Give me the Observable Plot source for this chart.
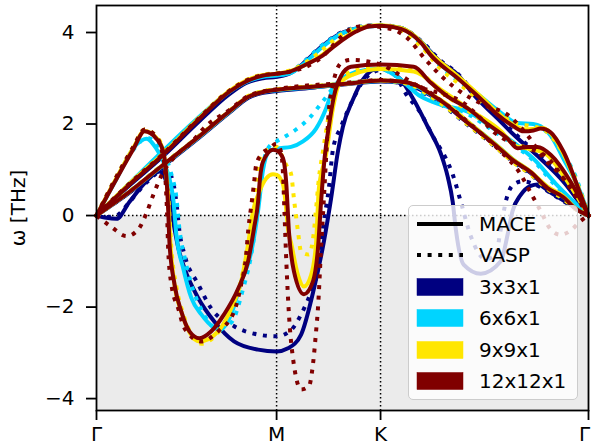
<!DOCTYPE html>
<html><head><meta charset="utf-8">
<script src="https://cdn.jsdelivr.net/npm/d3@7"></script>
<script src="https://cdn.jsdelivr.net/npm/@observablehq/plot@0.6"></script>
<style>
body{margin:0;background:#fff;font-family:"DejaVu Sans",sans-serif;}
#wrap{position:relative;width:592px;height:446px;overflow:hidden;}
#legend{position:absolute;left:408px;top:205px;width:170px;height:195px;box-sizing:border-box;background:rgba(255,255,255,0.8);border:1.5px solid #cccccc;border-radius:5px;}
#legend .row{position:absolute;left:0;height:30px;width:100%;}
#legend .lab{position:absolute;left:70px;top:0;line-height:30px;font-size:20px;color:#000;}
#legend svg{position:absolute;left:7px;top:0;}
</style></head><body><div id="wrap"></div><script>
// path positions (Γ-M-K-Γ, hexagonal BZ)
const tickPos = [0, 0.5774, 0.9107, 1.5774];
const tickLab = ["Γ", "M", "K", "Γ"];
const yTicks = [-4, -2, 0, 2, 4];
const yDomain = [-4.26, 4.59];
const sizes = ["3x3x1", "6x6x1", "9x9x1", "12x12x1"];
const colors = ["#000080", "#00d4ff", "#ffe600", "#800000"];
const methods = ["MACE", "VASP"];

// ---- 3x3x1 ----
const m3A = [[0,0],[0.106,0.66],[0.214,1.3],[0.32,2.0],[0.425,2.65],[0.48,2.9],[0.534,3.0],[0.5774,3.03],[0.624,3.12],[0.672,3.38],[0.72,3.68],[0.784,3.98],[0.841,4.1],[0.9107,4.15],[0.976,4.1],[1.04,3.8],[1.104,3.35],[1.158,3.08],[1.209,2.64],[1.286,2.12],[1.337,1.77],[1.424,1.24],[1.497,0.74],[1.5774,0]];
const m3B = [[0,0],[0.106,0.5],[0.214,1.08],[0.32,1.65],[0.425,2.24],[0.489,2.58],[0.534,2.68],[0.5774,2.72],[0.7,2.8],[0.8,2.87],[0.9107,2.93],[0.976,2.9],[1.024,2.8],[1.072,2.62],[1.126,2.38],[1.177,2.1],[1.232,1.8],[1.286,1.5],[1.337,1.2],[1.392,0.93],[1.446,0.6],[1.497,0.38],[1.536,0.15],[1.5774,0]];
const m3H = [[0,0],[0.032,-0.05],[0.064,-0.07],[0.106,0.3],[0.16,0.75],[0.202,0.96],[0.218,0.85],[0.234,0.37],[0.246,-0.13],[0.262,-0.7],[0.282,-1.15],[0.326,-1.8],[0.377,-2.31],[0.441,-2.75],[0.518,-2.93],[0.5774,-2.97],[0.614,-2.9],[0.656,-2.6],[0.697,-1.6],[0.729,-0.57],[0.752,0.37],[0.774,1.4],[0.79,1.94],[0.822,2.53],[0.854,2.97],[0.889,3.19],[0.9107,3.21],[0.944,3.15],[0.976,2.97],[1.017,2.53],[1.062,1.94],[1.104,1.35],[1.126,0.85],[1.142,0.3],[1.152,-0.3],[1.177,-1.07],[1.232,-1.27],[1.296,-1.0],[1.318,-0.42],[1.334,0.1],[1.36,0.45],[1.392,0.65],[1.414,0.68],[1.456,0.5],[1.504,0.3],[1.5774,0]];
const v3A = [[0,0],[0.106,0.67],[0.214,1.32],[0.32,2.02],[0.425,2.67],[0.48,2.92],[0.534,3.02],[0.5774,3.05],[0.624,3.14],[0.672,3.4],[0.72,3.7],[0.784,4.0],[0.841,4.12],[0.9107,4.16],[0.976,4.1],[1.04,3.82],[1.104,3.38],[1.158,3.1],[1.209,2.7],[1.286,2.18],[1.337,1.82],[1.424,1.28],[1.497,0.76],[1.5774,0]];
const v3B = [[0,0],[0.106,0.51],[0.214,1.1],[0.32,1.67],[0.425,2.26],[0.489,2.6],[0.534,2.7],[0.5774,2.74],[0.7,2.82],[0.8,2.88],[0.9107,2.94],[0.976,2.9],[1.024,2.78],[1.072,2.58],[1.126,2.33],[1.177,2.05],[1.232,1.76],[1.286,1.46],[1.337,1.17],[1.392,0.9],[1.446,0.58],[1.497,0.36],[1.536,0.14],[1.5774,0]];
const v3H = [[0,0],[0.032,-0.03],[0.064,0.0],[0.106,0.3],[0.16,0.72],[0.218,1.0],[0.24,0.85],[0.256,0.3],[0.266,-0.35],[0.282,-0.85],[0.326,-1.5],[0.368,-2.03],[0.441,-2.42],[0.518,-2.6],[0.5774,-2.64],[0.624,-2.5],[0.656,-2.16],[0.688,-1.66],[0.71,-1.16],[0.729,-0.13],[0.745,0.6],[0.758,1.44],[0.784,1.94],[0.822,2.53],[0.854,2.93],[0.889,3.14],[0.918,3.19],[0.953,3.1],[0.992,2.66],[1.04,2.23],[1.081,1.7],[1.12,1.25],[1.142,0.9],[1.168,0.3],[1.2,-0.45],[1.248,-0.95],[1.28,-0.85],[1.296,-0.3],[1.312,0.3],[1.337,0.68],[1.366,0.75],[1.424,0.62],[1.488,0.35],[1.5774,0]];

// ---- 6x6x1 ----
const m6A = [[0,0],[0.106,0.7],[0.214,1.42],[0.32,2.1],[0.425,2.7],[0.48,2.92],[0.534,3.03],[0.5774,3.06],[0.624,3.12],[0.672,3.36],[0.72,3.66],[0.784,3.97],[0.841,4.1],[0.9107,4.15],[0.976,4.1],[1.04,3.8],[1.104,3.3],[1.168,2.95],[1.232,2.6],[1.296,2.25],[1.35,2.02],[1.40,2.0],[1.424,1.95],[1.456,1.75],[1.5,1.2],[1.552,0.5],[1.5774,0]];
const m6B = [[0,0],[0.106,0.52],[0.214,1.1],[0.32,1.67],[0.425,2.26],[0.489,2.6],[0.534,2.7],[0.5774,2.74],[0.7,2.81],[0.8,2.88],[0.9107,2.94],[0.976,2.92],[1.024,2.83],[1.072,2.64],[1.126,2.4],[1.177,2.12],[1.232,1.82],[1.286,1.52],[1.337,1.22],[1.392,0.95],[1.446,0.62],[1.497,0.4],[1.536,0.16],[1.5774,0]];
const m6H = [[0,0],[0.032,0.4],[0.064,0.8],[0.128,1.55],[0.16,1.68],[0.192,1.46],[0.214,1.18],[0.234,0.8],[0.246,0.37],[0.256,-0.42],[0.278,-1.15],[0.304,-1.8],[0.336,-2.16],[0.377,-2.45],[0.395,-2.5],[0.432,-2.15],[0.464,-1.45],[0.496,-0.8],[0.518,0.1],[0.534,1.0],[0.553,1.4],[0.5774,1.46],[0.624,1.5],[0.662,1.62],[0.704,1.9],[0.736,2.34],[0.758,2.77],[0.79,3.0],[0.832,3.14],[0.9107,3.21],[0.96,3.05],[1.04,2.6],[1.104,2.42],[1.19,2.27],[1.273,1.9],[1.337,1.6],[1.401,1.24],[1.472,0.7],[1.5774,0]];
const v6A = [[0,0],[0.106,0.7],[0.214,1.4],[0.32,2.08],[0.425,2.7],[0.48,2.93],[0.534,3.04],[0.5774,3.07],[0.624,3.15],[0.672,3.4],[0.72,3.7],[0.784,3.98],[0.841,4.12],[0.9107,4.16],[0.976,4.08],[1.04,3.75],[1.104,3.25],[1.168,2.9],[1.232,2.58],[1.296,2.22],[1.35,2.02],[1.40,1.98],[1.44,1.85],[1.488,1.45],[1.536,0.85],[1.5774,0]];
const v6B = [[0,0],[0.106,0.53],[0.214,1.12],[0.32,1.69],[0.425,2.27],[0.489,2.61],[0.534,2.71],[0.5774,2.75],[0.7,2.82],[0.8,2.89],[0.9107,2.95],[0.976,2.91],[1.024,2.8],[1.072,2.6],[1.126,2.35],[1.177,2.07],[1.232,1.78],[1.286,1.48],[1.337,1.18],[1.392,0.92],[1.446,0.6],[1.497,0.38],[1.536,0.15],[1.5774,0]];
const v6H = [[0,0],[0.032,0.42],[0.064,0.82],[0.128,1.52],[0.16,1.7],[0.202,1.5],[0.24,0.9],[0.256,0.4],[0.266,-0.3],[0.282,-0.9],[0.304,-1.5],[0.336,-2.05],[0.384,-2.45],[0.43,-2.35],[0.47,-1.6],[0.5,-0.7],[0.518,0.2],[0.537,1.2],[0.553,1.5],[0.5774,1.62],[0.598,1.7],[0.64,1.88],[0.681,2.12],[0.726,2.5],[0.768,2.86],[0.816,3.1],[0.9107,3.2],[0.96,3.05],[1.04,2.65],[1.104,2.45],[1.19,2.22],[1.273,1.85],[1.337,1.55],[1.401,1.2],[1.472,0.65],[1.5774,0]];

// ---- 9x9x1 ----
const m9A = [[0,0],[0.106,0.7],[0.214,1.35],[0.32,2.07],[0.425,2.72],[0.48,2.95],[0.534,3.07],[0.5774,3.1],[0.617,3.15],[0.672,3.3],[0.726,3.52],[0.768,3.75],[0.832,4.04],[0.873,4.14],[0.9107,4.16],[0.976,4.1],[1.04,3.8],[1.072,3.55],[1.158,3.05],[1.232,2.6],[1.286,2.25],[1.337,1.98],[1.376,1.88],[1.41,1.9],[1.43,1.92],[1.456,1.8],[1.497,1.35],[1.552,0.46],[1.5774,0]];
const m9B = [[0,0],[0.106,0.52],[0.214,1.11],[0.32,1.68],[0.425,2.27],[0.489,2.61],[0.534,2.71],[0.5774,2.75],[0.7,2.82],[0.8,2.88],[0.9107,2.95],[0.976,2.93],[1.024,2.85],[1.072,2.66],[1.126,2.42],[1.177,2.13],[1.232,1.82],[1.286,1.52],[1.337,1.22],[1.392,0.96],[1.446,0.63],[1.497,0.42],[1.536,0.16],[1.5774,0]];
const m9H = [[0,0],[0.064,0.82],[0.118,1.48],[0.154,1.85],[0.192,1.7],[0.214,1.42],[0.224,0.85],[0.232,0.1],[0.237,-0.6],[0.25,-1.5],[0.272,-2.1],[0.298,-2.55],[0.33,-2.75],[0.39,-2.53],[0.432,-2.03],[0.464,-1.44],[0.486,-0.63],[0.502,0.1],[0.521,0.5],[0.544,0.81],[0.566,0.9],[0.5774,0.89],[0.598,0.68],[0.608,0.15],[0.614,-0.3],[0.624,-0.6],[0.646,-1.3],[0.665,-1.55],[0.688,-1.3],[0.704,-0.6],[0.713,0.6],[0.736,1.33],[0.758,2.34],[0.777,2.86],[0.822,3.08],[0.9107,3.2],[1.017,3.15],[1.104,2.75],[1.2,2.3],[1.296,1.85],[1.344,1.52],[1.392,1.45],[1.44,1.35],[1.504,0.8],[1.5774,0]];
const v9A = [[0,0],[0.106,0.7],[0.214,1.36],[0.32,2.08],[0.425,2.73],[0.48,2.96],[0.534,3.08],[0.5774,3.11],[0.624,3.18],[0.672,3.35],[0.72,3.6],[0.784,3.95],[0.832,4.1],[0.9107,4.15],[0.976,4.05],[1.04,3.7],[1.104,3.2],[1.168,2.85],[1.232,2.5],[1.296,2.2],[1.35,2.0],[1.40,1.95],[1.44,1.85],[1.488,1.45],[1.536,0.8],[1.5774,0]];
const v9B = [[0,0],[0.106,0.53],[0.214,1.12],[0.32,1.69],[0.425,2.28],[0.489,2.62],[0.534,2.72],[0.5774,2.76],[0.7,2.83],[0.8,2.89],[0.9107,2.95],[0.976,2.91],[1.024,2.81],[1.072,2.6],[1.126,2.34],[1.177,2.06],[1.232,1.76],[1.286,1.46],[1.337,1.16],[1.392,0.9],[1.446,0.58],[1.497,0.36],[1.536,0.14],[1.5774,0]];
const v9H = [[0,0],[0.064,0.85],[0.118,1.5],[0.154,1.88],[0.192,1.72],[0.214,1.45],[0.226,0.8],[0.234,0.0],[0.24,-0.7],[0.256,-1.55],[0.278,-2.15],[0.304,-2.6],[0.336,-2.8],[0.384,-2.6],[0.432,-2.1],[0.464,-1.4],[0.486,-0.6],[0.502,0.24],[0.512,0.74],[0.521,1.18],[0.537,1.4],[0.566,1.46],[0.5774,1.5],[0.598,1.25],[0.608,1.11],[0.624,0.9],[0.633,0.37],[0.646,-0.35],[0.656,-0.79],[0.681,-0.85],[0.697,-0.35],[0.704,0.15],[0.713,0.81],[0.726,1.4],[0.745,2.2],[0.768,2.8],[0.8,3.1],[0.9107,3.25],[1.017,3.2],[1.104,2.7],[1.2,2.25],[1.296,1.8],[1.344,1.55],[1.392,1.48],[1.44,1.4],[1.504,0.85],[1.5774,0]];

// ---- 12x12x1 ----
const m12A = [[0,0],[0.106,0.68],[0.214,1.33],[0.32,2.05],[0.425,2.7],[0.48,2.93],[0.534,3.06],[0.5774,3.1],[0.617,3.14],[0.672,3.3],[0.726,3.5],[0.768,3.73],[0.832,4.02],[0.873,4.13],[0.9107,4.15],[0.976,4.08],[1.04,3.78],[1.072,3.5],[1.158,3.0],[1.232,2.55],[1.286,2.2],[1.337,1.95],[1.369,1.84],[1.401,1.86],[1.424,1.9],[1.456,1.82],[1.497,1.4],[1.552,0.46],[1.5774,0]];
const m12B = [[0,0],[0.106,0.52],[0.214,1.11],[0.32,1.68],[0.425,2.27],[0.489,2.6],[0.534,2.7],[0.5774,2.75],[0.7,2.82],[0.8,2.88],[0.9107,2.95],[0.976,2.93],[1.024,2.85],[1.072,2.65],[1.126,2.4],[1.177,2.1],[1.232,1.8],[1.286,1.5],[1.337,1.2],[1.392,0.95],[1.446,0.6],[1.497,0.4],[1.536,0.15],[1.5774,0]];
const m12H = [[0,0],[0.064,0.8],[0.118,1.45],[0.154,1.84],[0.192,1.68],[0.214,1.4],[0.224,0.85],[0.23,0.1],[0.234,-0.6],[0.25,-1.5],[0.272,-2.1],[0.298,-2.53],[0.33,-2.68],[0.368,-2.53],[0.409,-2.16],[0.454,-1.6],[0.486,-1.0],[0.505,-0.28],[0.518,0.3],[0.524,0.8],[0.534,1.18],[0.566,1.44],[0.5774,1.42],[0.598,1.25],[0.608,0.74],[0.617,-0.35],[0.633,-1.22],[0.665,-1.72],[0.694,-1.44],[0.71,-0.72],[0.72,0.3],[0.732,1.3],[0.745,1.95],[0.761,2.6],[0.784,3.05],[0.816,3.25],[0.9107,3.3],[1.017,3.25],[1.072,2.9],[1.126,2.6],[1.19,2.34],[1.254,2.0],[1.318,1.68],[1.35,1.47],[1.382,1.5],[1.414,1.5],[1.456,1.33],[1.52,0.74],[1.5774,0]];
const v12A = [[0,0],[0.106,0.7],[0.214,1.35],[0.32,2.07],[0.425,2.72],[0.48,2.95],[0.534,3.07],[0.5774,3.1],[0.624,3.15],[0.672,3.25],[0.72,3.45],[0.784,3.9],[0.816,4.08],[0.864,4.15],[0.9107,4.12],[0.966,4.02],[0.998,3.87],[1.056,3.4],[1.113,3.0],[1.168,2.7],[1.232,2.45],[1.328,2.15],[1.382,1.75],[1.44,1.2],[1.478,0.96],[1.52,0.59],[1.5774,0]];
const v12B = [[0,0],[0.048,-0.25],[0.096,-0.45],[0.134,-0.3],[0.16,0.05],[0.182,0.45],[0.214,0.95],[0.246,1.25],[0.304,1.6],[0.35,1.95],[0.425,2.3],[0.489,2.62],[0.5774,2.76],[0.8,2.9],[0.9107,2.96],[1.024,2.85],[1.126,2.4],[1.232,1.8],[1.296,1.4],[1.36,0.9],[1.392,0.5],[1.424,0.1],[1.456,-0.3],[1.488,-0.42],[1.52,-0.33],[1.552,-0.12],[1.5774,0]];
const v12H = [[0,0],[0.064,0.85],[0.118,1.5],[0.154,1.88],[0.192,1.72],[0.21,1.4],[0.22,0.9],[0.226,0.1],[0.23,-0.76],[0.24,-1.5],[0.262,-2.03],[0.282,-2.46],[0.336,-2.75],[0.39,-2.53],[0.441,-2.1],[0.464,-1.5],[0.48,-0.85],[0.486,-0.35],[0.496,0.2],[0.505,0.7],[0.512,1.11],[0.528,1.33],[0.553,1.46],[0.5774,1.57],[0.592,1.38],[0.598,0.9],[0.603,0.0],[0.609,-1.07],[0.617,-2.16],[0.63,-3.12],[0.656,-3.8],[0.681,-3.73],[0.694,-3.25],[0.704,-2.53],[0.71,-2.03],[0.72,-0.72],[0.729,0.37],[0.738,1.5],[0.745,2.3],[0.758,2.85],[0.768,3.14],[0.79,3.36],[0.816,3.4],[0.9107,3.3],[0.966,3.1],[1.04,2.8],[1.113,2.65],[1.168,2.5],[1.232,2.12],[1.273,1.83],[1.328,1.6],[1.392,1.45],[1.44,1.3],[1.504,0.75],[1.5774,0]];

const curves = [
  ["3x3x1","MACE",[m3A,m3B,m3H]], ["3x3x1","VASP",[v3A,v3B,v3H]],
  ["6x6x1","MACE",[m6A,m6B,m6H]], ["6x6x1","VASP",[v6A,v6B,v6H]],
  ["9x9x1","MACE",[m9A,m9B,m9H]], ["9x9x1","VASP",[v9A,v9B,v9H]],
  ["12x12x1","MACE",[m12A,m12B,m12H]], ["12x12x1","VASP",[v12A,v12B,v12H]]
];
const rows = curves.flatMap(([size, method, bands]) =>
  bands.flatMap((pts, b) => pts.map(([k, w]) => ({size, method, id: size + method + b, k, w}))));

const lw = 4;
const dots = `${lw},${lw * 1.65}`;
const lineMarks = curves.map(([size, method]) =>
  Plot.line(rows.filter(d => d.size === size && d.method === method), {
    x: "k", y: "w", z: "id", stroke: "size", strokeWidth: lw,
    strokeDasharray: method === "VASP" ? dots : undefined,
    strokeLinecap: method === "VASP" ? "butt" : "square",
    curve: "monotone-x"
  }));

const lastTick = tickPos.slice(3);
const chart = Plot.plot({
  width: 592, height: 446,
  marginLeft: 96, marginRight: 4, marginTop: 5, marginBottom: 36,
  style: {fontSize: "20px", fontFamily: "'DejaVu Sans', sans-serif", background: "white", color: "black"},
  x: {domain: [tickPos[0], tickPos[3]]},
  y: {domain: yDomain},
  color: {domain: sizes, range: colors},
  marks: [
    Plot.rect([0], {x1: tickPos[0], x2: tickPos[3], y1: yDomain[0], y2: 0, fill: "#ebebeb"}),
    Plot.ruleY([0], {stroke: "black", strokeWidth: 1.5, strokeDasharray: "1.5,2.5"}),
    Plot.ruleX(tickPos.slice(1, 3), {stroke: "black", strokeWidth: 1.5, strokeDasharray: "1.5,2.5"}),
    ...lineMarks,
    Plot.frame({stroke: "black", strokeWidth: 1.8}),
    Plot.axisX(tickPos, {tickFormat: d => (d === tickPos[3] ? "" : tickLab[tickPos.indexOf(d)]), tickSize: 10, tickPadding: 6, strokeWidth: 1.8, label: null}),
    Plot.axisX(lastTick, {tickFormat: () => tickLab[3], tickSize: 0, tickPadding: 16, dx: -4, label: null}),
    Plot.axisY(yTicks, {tickSize: 10, tickPadding: 12, strokeWidth: 1.8, label: "ω [THz]", labelAnchor: "center", labelArrow: "none", labelOffset: 86})
  ]
});
const wrap = document.getElementById("wrap");
wrap.appendChild(chart);

// legend
const legend = document.createElement("div");
legend.id = "legend";
const entries = [
  {label: "MACE", kind: "solid"}, {label: "VASP", kind: "dotted"},
  ...sizes.map((s, i) => ({label: s, kind: "patch", color: colors[i]}))
];
entries.forEach((e, i) => {
  const row = document.createElement("div");
  row.className = "row";
  row.style.top = (3 + i * 31.4) + "px";
  let sw;
  if (e.kind === "patch") {
    sw = `<svg width="48" height="30"><rect x="1" y="6.5" width="46" height="17" fill="${e.color}" stroke="${e.color}" stroke-width="0.5"/></svg>`;
  } else {
    sw = `<svg width="48" height="30"><line x1="1" x2="47" y1="15" y2="15" stroke="black" stroke-width="${lw}" ${e.kind === "dotted" ? `stroke-dasharray="${dots}"` : ""}/></svg>`;
  }
  row.innerHTML = sw + `<span class="lab">${e.label}</span>`;
  legend.appendChild(row);
});
wrap.appendChild(legend);
</script></body></html>
